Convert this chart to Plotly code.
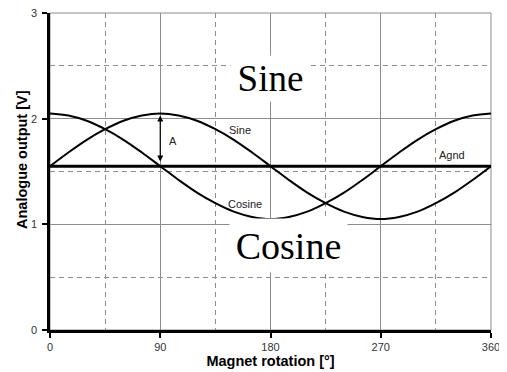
import plotly.graph_objects as go

# angle in degrees and the voltages
angle = [0, 15, 30, 45, 60, 75, 90, 105, 120, 135, 150, 165, 180,
         195, 210, 225, 240, 255, 270, 285, 300, 315, 330, 345, 360]
sine = [1.55, 1.68, 1.80, 1.90, 1.98, 2.03, 2.05, 2.03, 1.98, 1.90, 1.80, 1.68, 1.55,
        1.42, 1.30, 1.20, 1.12, 1.07, 1.05, 1.07, 1.12, 1.20, 1.30, 1.42, 1.55]
cosine = [2.05, 2.03, 1.98, 1.90, 1.80, 1.68, 1.55, 1.42, 1.30, 1.20, 1.12, 1.07, 1.05,
          1.07, 1.12, 1.20, 1.30, 1.42, 1.55, 1.68, 1.80, 1.90, 1.98, 2.03, 2.05]
agnd_x = [0, 360]
agnd = [1.55, 1.55]

x_ticks = [0, 90, 180, 270, 360]
y_ticks = [0, 1, 2, 3]

fig = go.Figure()
fig.add_trace(go.Scatter(x=angle, y=sine, mode="lines", line=dict(color="black", width=2, shape="spline")))
fig.add_trace(go.Scatter(x=angle, y=cosine, mode="lines", line=dict(color="black", width=2, shape="spline")))
fig.add_trace(go.Scatter(x=agnd_x, y=agnd, mode="lines", line=dict(color="black", width=3)))

grid = "#8c8c8c"
axis_font = dict(family="Liberation Sans, Arial", size=11, color="#333")
title_font = dict(family="Liberation Sans, Arial", size=14.5, color="black")

fig.update_xaxes(
    range=[0, 360], tickvals=x_ticks, ticks="outside", ticklen=5, tickwidth=1.5, tickcolor="black",
    showline=True, linecolor="black", linewidth=2.5, ticklabeloverflow="allow",
    showgrid=True, gridcolor=grid, gridwidth=1,
    minor=dict(dtick=45, showgrid=True, gridcolor=grid, griddash="5px,4px", gridwidth=1, ticks=""),
    tickfont=axis_font, zeroline=False, automargin=False,
    title=dict(text="<b>Magnet rotation [°]</b>", font=title_font, standoff=2),
)
fig.update_yaxes(
    range=[0, 3], tickvals=y_ticks, ticks="outside", ticklen=5, tickwidth=1.5, tickcolor="black",
    showline=True, linecolor="black", linewidth=2.5, ticklabelstandoff=3, ticklabeloverflow="allow",
    showgrid=True, gridcolor=grid, gridwidth=1,
    minor=dict(dtick=0.5, showgrid=True, gridcolor=grid, griddash="5px,4px", gridwidth=1, ticks=""),
    tickfont=axis_font, zeroline=False, automargin=False,
)

# grey frame on top and right
fig.add_shape(type="rect", xref="paper", yref="paper", x0=0, x1=1, y0=0, y1=1,
              line=dict(color=grid, width=1), layer="below")

small = dict(family="Liberation Sans, Arial", size=11, color="#222")
big = dict(family="Liberation Serif, Times New Roman, serif", color="black")
fig.update_layout(annotations=[
    dict(x=-28 / 441, y=(330 - 160) / 317, xref="paper", yref="paper", xanchor="center", yanchor="middle",
         text="<b>Analogue output [V]</b>", textangle=-90, font=title_font, showarrow=False),
    dict(x=155, y=1.89, text="Sine", font=small, showarrow=False),
    dict(x=159, y=1.19, text="Cosine", font=small, showarrow=False),
    dict(x=100, y=1.79, text="A", font=small, showarrow=False),
    dict(x=328, y=1.66, text="Agnd", font=small, showarrow=False),
    dict(x=180, y=2.38, text="Sine", font=dict(size=37, **big), showarrow=False,
         bgcolor="white", width=77, height=43),
    dict(x=194.5, y=0.80, text="Cosine", font=dict(size=38, **big), showarrow=False,
         bgcolor="white", width=115, height=51),
    dict(x=90, y=2.03, ax=90, ay=1.58, xref="x", yref="y", axref="x", ayref="y", text="",
         showarrow=True, arrowhead=2, arrowside="end+start", arrowsize=1, arrowwidth=1.2, arrowcolor="black"),
])

# the page adds an 8px body margin, so the figure is 8px smaller and shifted
fig.update_layout(
    width=499, height=364,
    margin=dict(l=42, r=16, t=5, b=42),
    plot_bgcolor="white", paper_bgcolor="white",
    showlegend=False,
)

fig.write_html("out.html")
